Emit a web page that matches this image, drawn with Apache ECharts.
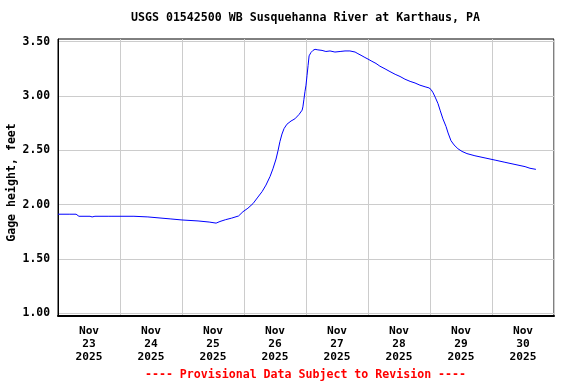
<!DOCTYPE html>
<html>
<head>
<meta charset="utf-8">
<script src="https://cdn.jsdelivr.net/npm/echarts@6/dist/echarts.min.js"></script>
<style>html,body{margin:0;padding:0;background:#fff}#c{width:576px;height:384px}</style>
</head>
<body>
<div id="c"></div>
<script>
// Hours since Nov 23 2025 00:00
const hours = [0, 4.6, 7.0, 7.4, 7.7, 8.1, 12.4, 13.2, 14.3, 19.4, 20.1, 20.9, 29.4, 29.8, 34.8, 35.2, 39.1, 39.5, 43.4, 43.7, 48.0, 48.4, 54.2, 54.6, 58.5, 58.8, 61.2, 62.7, 64.9, 67.2, 69.9, 71.6, 73.5, 75.5, 77.4, 79.0, 80.5, 82.1, 83.2, 84.4, 85.2, 85.9, 86.7, 87.5, 88.6, 90.2, 91.7, 93.3, 94.5, 94.8, 95.2, 95.6, 96.0, 96.4, 96.8, 97.2, 97.9, 98.7, 99.5, 100.6, 102.2, 103.7, 105.3, 107.2, 109.2, 111.1, 113.0, 115.0, 116.1, 117.3, 118.8, 120.0, 121.5, 123.1, 124.6, 126.6, 128.5, 130.5, 132.4, 134.3, 136.3, 138.2, 140.1, 142.1, 143.6, 144.4, 145.2, 146.0, 147.1, 147.9, 149.0, 150.2, 151.0, 152.1, 153.3, 154.8, 156.4, 158.3, 161.4, 165.3, 169.2, 173.0, 176.9, 180.8, 182.7, 185.0];
const gageHeight = [1.912, 1.912, 1.912, 1.895, 1.905, 1.893, 1.893, 1.887, 1.893, 1.893, 1.905, 1.893, 1.893, 1.887, 1.887, 1.878, 1.878, 1.869, 1.869, 1.859, 1.859, 1.850, 1.850, 1.840, 1.840, 1.832, 1.830, 1.845, 1.862, 1.876, 1.896, 1.935, 1.967, 2.010, 2.070, 2.120, 2.180, 2.260, 2.330, 2.420, 2.500, 2.580, 2.650, 2.700, 2.740, 2.770, 2.790, 2.830, 2.870, 2.900, 2.970, 3.040, 3.100, 3.190, 3.280, 3.370, 3.400, 3.420, 3.430, 3.425, 3.420, 3.410, 3.415, 3.405, 3.410, 3.415, 3.415, 3.405, 3.390, 3.375, 3.355, 3.340, 3.320, 3.300, 3.275, 3.250, 3.225, 3.200, 3.180, 3.155, 3.135, 3.120, 3.100, 3.085, 3.075, 3.060, 3.030, 2.990, 2.930, 2.870, 2.790, 2.720, 2.660, 2.590, 2.550, 2.515, 2.490, 2.470, 2.450, 2.430, 2.410, 2.390, 2.370, 2.350, 2.335, 2.325];
const dayLabels = ['Nov\n23\n2025', 'Nov\n24\n2025', 'Nov\n25\n2025', 'Nov\n26\n2025', 'Nov\n27\n2025', 'Nov\n28\n2025', 'Nov\n29\n2025', 'Nov\n30\n2025'];
const dayLabelHours = [12, 36, 60, 84, 108, 132, 156, 180];
const yTicks = [1.0, 1.5, 2.0, 2.5, 3.0, 3.5];
const titleText = 'USGS 01542500 WB Susquehanna River at Karthaus, PA';
const yAxisTitle = 'Gage height, feet';
const footerText = '---- Provisional Data Subject to Revision ----';

const FONT = '"DejaVu Sans Mono", "Liberation Mono", monospace';
const chart = echarts.init(document.getElementById('c'), null, {renderer: 'canvas'});
chart.setOption({
  animation: false,
  backgroundColor: '#fff',
  graphic: [{
    type: 'text', x: 305.5, y: 18, silent: true,
    style: {text: titleText, align: 'center', verticalAlign: 'middle', fill: '#000', font: 'bold 11.6px ' + FONT}
  }, {
    type: 'text', x: 305.5, y: 375, silent: true,
    style: {text: footerText, align: 'center', verticalAlign: 'middle', fill: '#ff0000', font: 'bold 11.6px ' + FONT}
  }, {
    type: 'text', x: 12, y: 182.5, rotation: Math.PI / 2, silent: true,
    style: {text: yAxisTitle, align: 'center', verticalAlign: 'middle', fill: '#000', font: 'bold 11.6px ' + FONT}
  }],
  grid: {left: 58, right: 22, top: 39, bottom: 68, show: true, borderColor: '#000', borderWidth: 1,
         backgroundColor: 'transparent', containLabel: false, outerBoundsMode: 'none'},
  xAxis: {
    type: 'value', min: 0, max: 192, interval: 24,
    axisLine: {show: true, lineStyle: {color: '#000', width: 2}},
    axisTick: {show: false},
    splitLine: {show: true, lineStyle: {color: '#cccccc', width: 1}},
    axisLabel: {
      customValues: dayLabelHours,
      formatter: function (v) { return dayLabels[dayLabelHours.indexOf(v)]; },
      fontFamily: FONT, fontSize: 11.2, fontWeight: 'bold', color: '#000', lineHeight: 12.7, margin: 9
    }
  },
  yAxis: {
    type: 'value', min: 0.975, max: 3.525,
    axisLine: {show: true, lineStyle: {color: '#000', width: 1}},
    axisTick: {show: false, customValues: yTicks},
    splitLine: {show: true, lineStyle: {color: '#cccccc', width: 1}},
    axisLabel: {
      customValues: yTicks,
      formatter: function (v) { return v.toFixed(2); },
      fontFamily: FONT, fontSize: 11.4, fontWeight: 'bold', color: '#000', margin: 8
    }
  },
  series: [{
    type: 'line', showSymbol: false, symbol: 'none',
    data: hours.map((h, i) => [h, gageHeight[i]]),
    lineStyle: {color: '#0000ff', width: 1},
    z: 3
  }]
});
</script>
</body>
</html>
